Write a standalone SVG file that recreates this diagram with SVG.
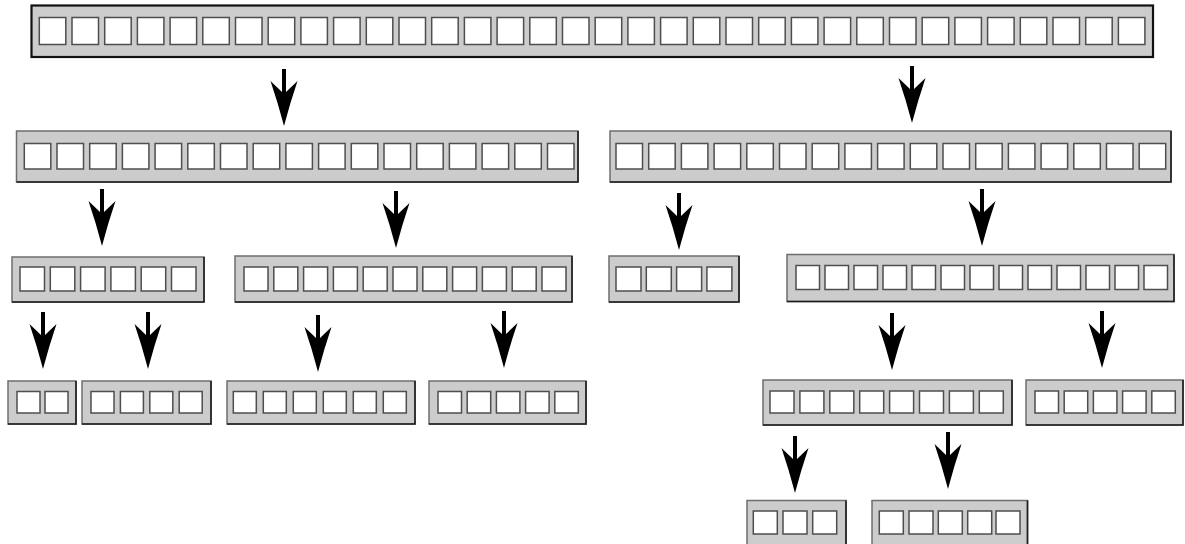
<svg xmlns="http://www.w3.org/2000/svg" width="1185" height="544" viewBox="0 0 1185 544">
<style>
.box{fill:#cccccc;stroke:#6e6e6e;stroke-width:1.5}
.edge{fill:none;stroke:#1e1e1e;stroke-width:1.6}
.topbox{fill:#cccccc;stroke:#111111;stroke-width:2.2}
.c{fill:#ffffff;stroke:#4e4e4e;stroke-width:1.5}
.arrow{fill:#000000}
</style>
<defs>
<path id="arr" class="arrow" d="M -2,0 L 2,0 L 2,23 L 13.5,12 Q 6,34 0,57 Q -6,34 -13.5,12 L -2,23 Z"/>
</defs>
<rect width="1185" height="544" fill="#ffffff"/>

<g id="n-top">
<rect class="topbox" x="31.5" y="5.5" width="1121.5" height="51.5"/>
<g class="c-row">
<rect class="c" x="39.3" y="17.5" width="26.5" height="27"/>
<rect class="c" x="72" y="17.5" width="26.5" height="27"/>
<rect class="c" x="104.7" y="17.5" width="26.5" height="27"/>
<rect class="c" x="137.4" y="17.5" width="26.5" height="27"/>
<rect class="c" x="170.1" y="17.5" width="26.5" height="27"/>
<rect class="c" x="202.8" y="17.5" width="26.5" height="27"/>
<rect class="c" x="235.5" y="17.5" width="26.5" height="27"/>
<rect class="c" x="268.2" y="17.5" width="26.5" height="27"/>
<rect class="c" x="300.9" y="17.5" width="26.5" height="27"/>
<rect class="c" x="333.6" y="17.5" width="26.5" height="27"/>
<rect class="c" x="366.3" y="17.5" width="26.5" height="27"/>
<rect class="c" x="399" y="17.5" width="26.5" height="27"/>
<rect class="c" x="431.7" y="17.5" width="26.5" height="27"/>
<rect class="c" x="464.4" y="17.5" width="26.5" height="27"/>
<rect class="c" x="497.1" y="17.5" width="26.5" height="27"/>
<rect class="c" x="529.8" y="17.5" width="26.5" height="27"/>
<rect class="c" x="562.5" y="17.5" width="26.5" height="27"/>
<rect class="c" x="595.2" y="17.5" width="26.5" height="27"/>
<rect class="c" x="627.9" y="17.5" width="26.5" height="27"/>
<rect class="c" x="660.6" y="17.5" width="26.5" height="27"/>
<rect class="c" x="693.3" y="17.5" width="26.5" height="27"/>
<rect class="c" x="726" y="17.5" width="26.5" height="27"/>
<rect class="c" x="758.7" y="17.5" width="26.5" height="27"/>
<rect class="c" x="791.4" y="17.5" width="26.5" height="27"/>
<rect class="c" x="824.1" y="17.5" width="26.5" height="27"/>
<rect class="c" x="856.8" y="17.5" width="26.5" height="27"/>
<rect class="c" x="889.5" y="17.5" width="26.5" height="27"/>
<rect class="c" x="922.2" y="17.5" width="26.5" height="27"/>
<rect class="c" x="954.9" y="17.5" width="26.5" height="27"/>
<rect class="c" x="987.6" y="17.5" width="26.5" height="27"/>
<rect class="c" x="1020.3" y="17.5" width="26.5" height="27"/>
<rect class="c" x="1053" y="17.5" width="26.5" height="27"/>
<rect class="c" x="1085.7" y="17.5" width="26.5" height="27"/>
<rect class="c" x="1118.4" y="17.5" width="26.5" height="27"/>
</g>
</g>

<g id="n-l2-left">
<rect class="box" x="16.5" y="131" width="561.5" height="51"/>
<path class="edge" d="M 16.5,182 H 578 V 131"/>
<rect class="c" x="24.3" y="143.5" width="26.5" height="25.5"/>
<rect class="c" x="57" y="143.5" width="26.5" height="25.5"/>
<rect class="c" x="89.7" y="143.5" width="26.5" height="25.5"/>
<rect class="c" x="122.4" y="143.5" width="26.5" height="25.5"/>
<rect class="c" x="155.1" y="143.5" width="26.5" height="25.5"/>
<rect class="c" x="187.8" y="143.5" width="26.5" height="25.5"/>
<rect class="c" x="220.5" y="143.5" width="26.5" height="25.5"/>
<rect class="c" x="253.2" y="143.5" width="26.5" height="25.5"/>
<rect class="c" x="285.9" y="143.5" width="26.5" height="25.5"/>
<rect class="c" x="318.6" y="143.5" width="26.5" height="25.5"/>
<rect class="c" x="351.3" y="143.5" width="26.5" height="25.5"/>
<rect class="c" x="384" y="143.5" width="26.5" height="25.5"/>
<rect class="c" x="416.7" y="143.5" width="26.5" height="25.5"/>
<rect class="c" x="449.4" y="143.5" width="26.5" height="25.5"/>
<rect class="c" x="482.1" y="143.5" width="26.5" height="25.5"/>
<rect class="c" x="514.8" y="143.5" width="26.5" height="25.5"/>
<rect class="c" x="547.5" y="143.5" width="26.5" height="25.5"/>
</g>

<g id="n-l2-right">
<rect class="box" x="610" y="131" width="561" height="51"/>
<path class="edge" d="M 610,182 H 1171 V 131"/>
<rect class="c" x="616" y="143.5" width="26.5" height="25.5"/>
<rect class="c" x="648.7" y="143.5" width="26.5" height="25.5"/>
<rect class="c" x="681.4" y="143.5" width="26.5" height="25.5"/>
<rect class="c" x="714.1" y="143.5" width="26.5" height="25.5"/>
<rect class="c" x="746.8" y="143.5" width="26.5" height="25.5"/>
<rect class="c" x="779.5" y="143.5" width="26.5" height="25.5"/>
<rect class="c" x="812.2" y="143.5" width="26.5" height="25.5"/>
<rect class="c" x="844.9" y="143.5" width="26.5" height="25.5"/>
<rect class="c" x="877.6" y="143.5" width="26.5" height="25.5"/>
<rect class="c" x="910.3" y="143.5" width="26.5" height="25.5"/>
<rect class="c" x="943" y="143.5" width="26.5" height="25.5"/>
<rect class="c" x="975.7" y="143.5" width="26.5" height="25.5"/>
<rect class="c" x="1008.4" y="143.5" width="26.5" height="25.5"/>
<rect class="c" x="1041.1" y="143.5" width="26.5" height="25.5"/>
<rect class="c" x="1073.8" y="143.5" width="26.5" height="25.5"/>
<rect class="c" x="1106.5" y="143.5" width="26.5" height="25.5"/>
<rect class="c" x="1139.2" y="143.5" width="26.5" height="25.5"/>
</g>

<g id="n-l3-a">
<rect class="box" x="12" y="257" width="192" height="45"/>
<path class="edge" d="M 12,302 H 204 V 257"/>
<rect class="c" x="20" y="267" width="24.5" height="24"/>
<rect class="c" x="50.3" y="267" width="24.5" height="24"/>
<rect class="c" x="80.6" y="267" width="24.5" height="24"/>
<rect class="c" x="110.9" y="267" width="24.5" height="24"/>
<rect class="c" x="141.2" y="267" width="24.5" height="24"/>
<rect class="c" x="171.5" y="267" width="24.5" height="24"/>
</g>

<g id="n-l3-b">
<rect class="box" x="235" y="256" width="337" height="46"/>
<path class="edge" d="M 235,302 H 572 V 256"/>
<rect class="c" x="244" y="267" width="24" height="24"/>
<rect class="c" x="273.8" y="267" width="24" height="24"/>
<rect class="c" x="303.6" y="267" width="24" height="24"/>
<rect class="c" x="333.4" y="267" width="24" height="24"/>
<rect class="c" x="363.2" y="267" width="24" height="24"/>
<rect class="c" x="393" y="267" width="24" height="24"/>
<rect class="c" x="422.8" y="267" width="24" height="24"/>
<rect class="c" x="452.6" y="267" width="24" height="24"/>
<rect class="c" x="482.4" y="267" width="24" height="24"/>
<rect class="c" x="512.2" y="267" width="24" height="24"/>
<rect class="c" x="542" y="267" width="24" height="24"/>
</g>

<g id="n-l3-c">
<rect class="box" x="609" y="256" width="130" height="46"/>
<path class="edge" d="M 609,302 H 739 V 256"/>
<rect class="c" x="616" y="267" width="25" height="24"/>
<rect class="c" x="646.3" y="267" width="25" height="24"/>
<rect class="c" x="676.6" y="267" width="25" height="24"/>
<rect class="c" x="706.9" y="267" width="25" height="24"/>
</g>

<g id="n-l3-d">
<rect class="box" x="787" y="254.5" width="387" height="47"/>
<path class="edge" d="M 787,301.5 H 1174 V 254.5"/>
<rect class="c" x="796" y="265.5" width="23.5" height="24"/>
<rect class="c" x="825" y="265.5" width="23.5" height="24"/>
<rect class="c" x="854" y="265.5" width="23.5" height="24"/>
<rect class="c" x="883" y="265.5" width="23.5" height="24"/>
<rect class="c" x="912" y="265.5" width="23.5" height="24"/>
<rect class="c" x="941" y="265.5" width="23.5" height="24"/>
<rect class="c" x="970" y="265.5" width="23.5" height="24"/>
<rect class="c" x="999" y="265.5" width="23.5" height="24"/>
<rect class="c" x="1028" y="265.5" width="23.5" height="24"/>
<rect class="c" x="1057" y="265.5" width="23.5" height="24"/>
<rect class="c" x="1086" y="265.5" width="23.5" height="24"/>
<rect class="c" x="1115" y="265.5" width="23.5" height="24"/>
<rect class="c" x="1144" y="265.5" width="23.5" height="24"/>
</g>

<g id="n-l4-a">
<rect class="box" x="8" y="381" width="68" height="43"/>
<path class="edge" d="M 8,424 H 76 V 381"/>
<rect class="c" x="17" y="391.5" width="23" height="21.5"/>
<rect class="c" x="45" y="391.5" width="23" height="21.5"/>
</g>

<g id="n-l4-b">
<rect class="box" x="82" y="381" width="129" height="43"/>
<path class="edge" d="M 82,424 H 211 V 381"/>
<rect class="c" x="91" y="391.5" width="23" height="21.5"/>
<rect class="c" x="120.4" y="391.5" width="23" height="21.5"/>
<rect class="c" x="149.8" y="391.5" width="23" height="21.5"/>
<rect class="c" x="179.2" y="391.5" width="23" height="21.5"/>
</g>

<g id="n-l4-c">
<rect class="box" x="227" y="381" width="188" height="43"/>
<path class="edge" d="M 227,424 H 415 V 381"/>
<rect class="c" x="233.3" y="391.5" width="23" height="21.5"/>
<rect class="c" x="263.3" y="391.5" width="23" height="21.5"/>
<rect class="c" x="293.3" y="391.5" width="23" height="21.5"/>
<rect class="c" x="323.3" y="391.5" width="23" height="21.5"/>
<rect class="c" x="353.3" y="391.5" width="23" height="21.5"/>
<rect class="c" x="383.3" y="391.5" width="23" height="21.5"/>
</g>

<g id="n-l4-d">
<rect class="box" x="429" y="381" width="157" height="43"/>
<path class="edge" d="M 429,424 H 586 V 381"/>
<rect class="c" x="438" y="391.5" width="23.5" height="21.5"/>
<rect class="c" x="467.2" y="391.5" width="23.5" height="21.5"/>
<rect class="c" x="496.4" y="391.5" width="23.5" height="21.5"/>
<rect class="c" x="525.6" y="391.5" width="23.5" height="21.5"/>
<rect class="c" x="554.8" y="391.5" width="23.5" height="21.5"/>
</g>

<g id="n-l4-e">
<rect class="box" x="763" y="380" width="249" height="45"/>
<path class="edge" d="M 763,425 H 1012 V 380"/>
<rect class="c" x="770" y="391" width="24" height="22"/>
<rect class="c" x="799.9" y="391" width="24" height="22"/>
<rect class="c" x="829.8" y="391" width="24" height="22"/>
<rect class="c" x="859.7" y="391" width="24" height="22"/>
<rect class="c" x="889.6" y="391" width="24" height="22"/>
<rect class="c" x="919.5" y="391" width="24" height="22"/>
<rect class="c" x="949.4" y="391" width="24" height="22"/>
<rect class="c" x="979.3" y="391" width="24" height="22"/>
</g>

<g id="n-l4-f">
<rect class="box" x="1026" y="380" width="157" height="45"/>
<path class="edge" d="M 1026,425 H 1183 V 380"/>
<rect class="c" x="1035" y="391" width="23.5" height="22"/>
<rect class="c" x="1064.2" y="391" width="23.5" height="22"/>
<rect class="c" x="1093.4" y="391" width="23.5" height="22"/>
<rect class="c" x="1122.6" y="391" width="23.5" height="22"/>
<rect class="c" x="1151.8" y="391" width="23.5" height="22"/>
</g>

<g id="n-l5-a">
<rect class="box" x="747" y="500.5" width="99" height="50"/>
<path class="edge" d="M 846,550 V 500.5"/>
<rect class="c" x="753.3" y="511" width="24" height="23"/>
<rect class="c" x="783" y="511" width="24" height="23"/>
<rect class="c" x="812.7" y="511" width="24" height="23"/>
</g>

<g id="n-l5-b">
<rect class="box" x="872" y="500.5" width="155.5" height="50"/>
<path class="edge" d="M 1027.5,550 V 500.5"/>
<rect class="c" x="879.3" y="511" width="24" height="23"/>
<rect class="c" x="909" y="511" width="24" height="23"/>
<rect class="c" x="938.3" y="511" width="24" height="23"/>
<rect class="c" x="967.7" y="511" width="24" height="23"/>
<rect class="c" x="996" y="511" width="24" height="23"/>
</g>

<g id="connectors">
<use href="#arr" x="284" y="69"/>
<use href="#arr" x="912" y="66"/>
<use href="#arr" x="102" y="189"/>
<use href="#arr" x="396" y="191"/>
<use href="#arr" x="679" y="193"/>
<use href="#arr" x="982" y="189"/>
<use href="#arr" x="43" y="312"/>
<use href="#arr" x="148" y="312"/>
<use href="#arr" x="318" y="315"/>
<use href="#arr" x="504" y="311"/>
<use href="#arr" x="892" y="313"/>
<use href="#arr" x="1102" y="311"/>
<use href="#arr" x="795" y="436"/>
<use href="#arr" x="948" y="432"/>
</g>
</svg>
